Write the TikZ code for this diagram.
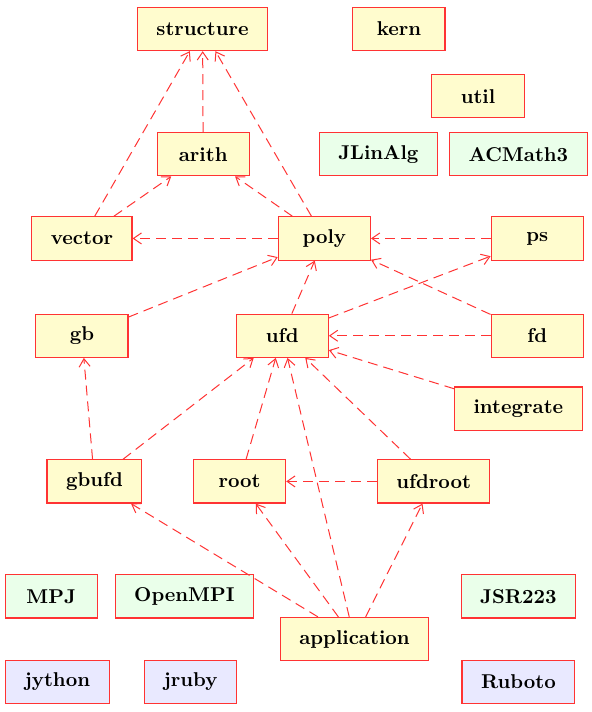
\documentclass[tikz,border=0pt]{standalone}
\usetikzlibrary{arrows.meta}
\definecolor{boxred}{RGB}{255,51,51}
\definecolor{pkgfill}{RGB}{255,252,206}
\definecolor{libfill}{RGB}{234,255,234}
\definecolor{scrfill}{RGB}{233,233,255}
\begin{document}
\begin{tikzpicture}[scale=1,
        box/.style={draw=boxred,line width=0.55pt,minimum width=1.62cm,minimum height=0.76cm,inner xsep=9.5pt,font=\bfseries},
        pkg/.style={box,fill=pkgfill},
        lib/.style={box,fill=libfill},
        scr/.style={box,fill=scrfill},
        dep/.style={draw=boxred,line width=0.5pt,dash pattern=on 5pt off 3pt,-{Straight Barb[length=4pt,width=5.5pt]}}]
    \useasboundingbox (0,0) rectangle (10.403,-12.512);
    % packages
    \node[pkg] (structure) at (3.56,-0.51){structure};
    \node[pkg] (kern) at (7.01,-0.51){kern};
    \node[pkg] (util) at (8.40,-1.69){util};
    \node[pkg] (arith) at (3.57,-2.71){arith};
    \node[pkg] (vector) at (1.44,-4.19){vector};
    \node[pkg] (poly) at (5.70,-4.19){poly};
    \node[pkg] (ps) at (9.44,-4.19){ps};
    \node[pkg] (gb) at (1.44,-5.90){gb};
    \node[pkg] (ufd) at (4.96,-5.90){ufd};
    \node[pkg] (fd) at (9.44,-5.90){fd};
    \node[pkg] (integrate) at (9.11,-7.18){integrate};
    \node[pkg] (gbufd) at (1.66,-8.46){gbufd};
    \node[pkg] (root) at (4.21,-8.46){root};
    \node[pkg] (ufdroot) at (7.62,-8.46){ufdroot};
    \node[pkg] (application) at (6.23,-11.23){application};
    % libraries
    \node[lib] (JLinAlg) at (6.65,-2.71){JLinAlg};
    \node[lib] (ACMath3) at (9.11,-2.71){ACMath3};
    \node[lib] (MPJ) at (0.90,-10.48){MPJ};
    \node[lib] (OpenMPI) at (3.24,-10.48){OpenMPI};
    \node[lib] (JSR223) at (9.11,-10.48){JSR223};
    % scripting
    \node[scr] (jython) at (1.01,-11.98){jython};
    \node[scr] (jruby) at (3.35,-11.98){jruby};
    \node[scr] (Ruboto) at (9.11,-11.98){Ruboto};
    % dependencies
    \draw[dep] (arith)--(structure);
    \draw[dep] (vector)--(structure);
    \draw[dep] (vector)--(arith);
    \draw[dep] (poly)--(structure);
    \draw[dep] (poly)--(arith);
    \draw[dep] (poly)--(vector);
    \draw[dep] (ps)--(poly);
    \draw[dep] (fd)--(poly);
    \draw[dep] (gb)--(poly);
    \draw[dep] (ufd)--(poly);
    \draw[dep] (ufd)--(ps);
    \draw[dep] (fd)--(ufd);
    \draw[dep] (integrate)--(ufd);
    \draw[dep] (gbufd)--(gb);
    \draw[dep] (gbufd)--(ufd);
    \draw[dep] (root)--(ufd);
    \draw[dep] (ufdroot)--(ufd);
    \draw[dep] (ufdroot)--(root);
    \draw[dep] (application)--(gbufd);
    \draw[dep] (application)--(root);
    \draw[dep] (application)--(ufd);
    \draw[dep] (application)--(ufdroot);
\end{tikzpicture}
\end{document}
